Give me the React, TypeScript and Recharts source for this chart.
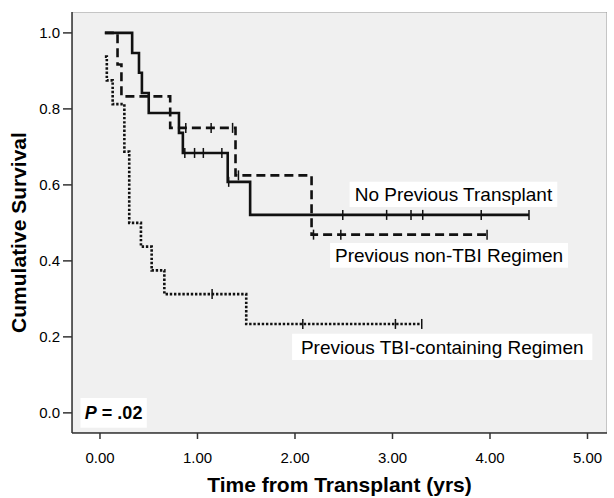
import React from 'react';
import { LineChart, Line, XAxis, YAxis, ReferenceArea, Label } from 'recharts';

// Kaplan-Meier steps (time in years, cumulative survival, censored flag)
const noPrevTime = [0.05, 0.33, 0.40, 0.43, 0.50, 0.81, 0.85, 0.87, 0.97, 1.06, 1.25, 1.31, 1.32, 1.54, 2.49, 2.94, 3.19, 3.31, 3.91, 4.40];
const noPrevSurv = [1.0, 0.947, 0.895, 0.842, 0.789, 0.737, 0.684, 0.684, 0.684, 0.684, 0.684, 0.608, 0.608, 0.521, 0.521, 0.521, 0.521, 0.521, 0.521, 0.521];
const noPrevCens = [0, 0, 0, 0, 0, 0, 0, 1, 1, 1, 1, 0, 1, 0, 1, 1, 1, 1, 1, 1];

const nonTbiTime = [0.05, 0.18, 0.22, 0.72, 0.88, 1.14, 1.36, 1.39, 1.42, 2.17, 2.19, 2.47, 3.97];
const nonTbiSurv = [1.0, 0.917, 0.833, 0.75, 0.75, 0.75, 0.75, 0.625, 0.625, 0.469, 0.469, 0.469, 0.469];
const nonTbiCens = [0, 0, 0, 0, 1, 1, 1, 0, 1, 0, 1, 1, 1];

const tbiTime = [0.05, 0.07, 0.13, 0.25, 0.30, 0.42, 0.53, 0.66, 1.15, 1.50, 2.08, 3.03, 3.30];
const tbiSurv = [0.9375, 0.875, 0.8125, 0.6875, 0.5, 0.4375, 0.375, 0.3125, 0.3125, 0.234, 0.234, 0.234, 0.234];
const tbiCens = [0, 0, 0, 0, 0, 0, 0, 0, 1, 0, 1, 1, 1];

const xTicks = [0, 1, 2, 3, 4, 5];
const yTicks = [0, 0.2, 0.4, 0.6, 0.8, 1.0];

const build = (t: number[], s: number[], c: number[]) =>
  t.map((v, i) => ({ t: v, s: s[i], c: c[i] }));

const noPrev = build(noPrevTime, noPrevSurv, noPrevCens);
const nonTbi = build(nonTbiTime, nonTbiSurv, nonTbiCens);
const tbi = build(tbiTime, tbiSurv, tbiCens);

const FONT = '"Liberation Sans", Arial, sans-serif';
const INK = '#111';

const censor = (props: any) => {
  const { cx, cy, payload, index } = props;
  if (!payload || !payload.c) return <g key={`n${index}`} />;
  return <line key={`c${index}`} x1={cx} x2={cx} y1={cy - 5} y2={cy + 5} stroke={INK} strokeWidth={1.5} />;
};

const boxLabel = (text: string) => ({
  value: text,
  position: 'center' as const,
  fontSize: 19,
  fill: '#000',
  fontFamily: FONT,
});

const App = () => {
  return (
    <div style={{ position: 'absolute', left: 0, top: 0, background: '#fff' }}>
      <LineChart width={614} height={498} margin={{ top: 12, right: 7, bottom: 0, left: 0 }}>
        <XAxis
          type="number"
          dataKey="t"
          domain={[-0.287, 5.2]}
          ticks={xTicks}
          allowDataOverflow
          height={65}
          tickFormatter={(v: number) => v.toFixed(2)}
          tick={{ fontSize: 15, fill: '#000', fontFamily: FONT }}
          tickSize={6}
          tickMargin={13}
          axisLine={{ stroke: '#333', strokeWidth: 1.5 }}
          tickLine={{ stroke: '#333', strokeWidth: 1.5 }}
        >
          <Label
            value="Time from Transplant (yrs)"
            position="insideBottom"
            offset={6}
            style={{ fontSize: 21, fontWeight: 'bold', fill: '#000', fontFamily: FONT }}
          />
        </XAxis>
        <YAxis
          type="number"
          domain={[-0.053, 1.055]}
          ticks={yTicks}
          allowDataOverflow
          width={72}
          tickFormatter={(v: number) => v.toFixed(1)}
          tick={{ fontSize: 15, fill: '#000', fontFamily: FONT }}
          tickSize={9}
          tickMargin={3}
          axisLine={{ stroke: '#333', strokeWidth: 1.5 }}
          tickLine={{ stroke: '#333', strokeWidth: 1.5 }}
        >
          <Label
            content={(p: any) => {
              const vb = p.viewBox;
              const cx = vb.x + 18;
              const cy = vb.y + vb.height / 2 + 10;
              return (
                <text
                  x={cx}
                  y={cy}
                  transform={`rotate(-90, ${cx}, ${cy})`}
                  textAnchor="middle"
                  dominantBaseline="central"
                  style={{ fontSize: 21, fontWeight: 'bold', fill: '#000', fontFamily: FONT }}
                >
                  Cumulative Survival
                </text>
              );
            }}
          />
        </YAxis>

        <ReferenceArea x1={-0.287} x2={5.2} y1={-0.053} y2={1.055} fill="#f0f0f0" fillOpacity={1} stroke="#9a9a9a" strokeWidth={1} ifOverflow="hidden" />

        <ReferenceArea x1={2.56} x2={4.69} y1={0.542} y2={0.608} fill="#fff" fillOpacity={1} stroke="none" label={boxLabel('No Previous Transplant')} />
        <ReferenceArea x1={2.36} x2={4.8} y1={0.382} y2={0.447} fill="#fff" fillOpacity={1} stroke="none" label={boxLabel('Previous non-TBI Regimen')} />
        <ReferenceArea x1={1.97} x2={5.05} y1={0.139} y2={0.208} fill="#fff" fillOpacity={1} stroke="none" label={boxLabel('Previous TBI-containing Regimen')} />
        <ReferenceArea
          x1={-0.2}
          x2={0.48}
          y1={-0.039}
          y2={0.039}
          fill="#fff"
          fillOpacity={1}
          stroke="none"
          label={{
            position: 'center',
            content: (p: any) => {
              const vb = p.viewBox;
              return (
                <text
                  x={vb.x + vb.width / 2}
                  y={vb.y + vb.height / 2}
                  textAnchor="middle"
                  dominantBaseline="central"
                  style={{ fontSize: 18, fontWeight: 'bold', fill: '#000', fontFamily: FONT }}
                >
                  <tspan fontStyle="italic">P</tspan>
                  <tspan> = .02</tspan>
                </text>
              );
            },
          }}
        />

        <Line
          data={tbi}
          dataKey="s"
          type="stepAfter"
          stroke={INK}
          strokeWidth={2.6}
          strokeDasharray="2.4 1.8"
          dot={censor}
          activeDot={false}
          isAnimationActive={false}
        />
        <Line
          data={nonTbi}
          dataKey="s"
          type="stepAfter"
          stroke={INK}
          strokeWidth={2.6}
          strokeDasharray="9 5"
          dot={censor}
          activeDot={false}
          isAnimationActive={false}
        />
        <Line
          data={noPrev}
          dataKey="s"
          type="stepAfter"
          stroke={INK}
          strokeWidth={2.6}
          dot={censor}
          activeDot={false}
          isAnimationActive={false}
        />
      </LineChart>
    </div>
  );
};

export default App;
